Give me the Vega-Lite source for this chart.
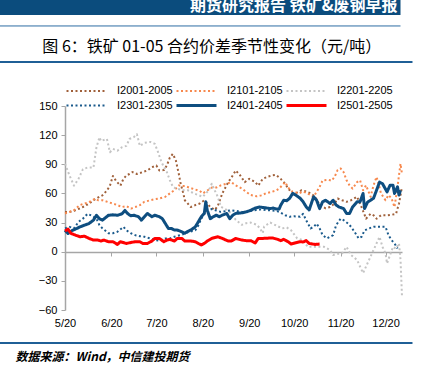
{
"$schema":"https://vega.github.io/schema/vega-lite/v6.json",
"width":337,"height":204,
"autosize":{"type":"none"},
"padding":{"left":65,"top":106,"right":20,"bottom":58},
"background":"#ffffff",
"config":{"view":{"stroke":null},"font":"Liberation Sans",
 "axis":{"labelFont":"Liberation Sans","labelFontSize":11,"labelColor":"#000000","domainColor":"#A6A6A6","tickColor":"#A6A6A6","grid":false,"title":null,"labelOverlap":false},
 "legend":{"labelFont":"Liberation Sans","labelFontSize":11,"labelColor":"#000000"}},
"layer":[
{"data":{"format":{"parse":{"d":"date:'%m/%d'"}},"values":[
{"s":"I2001-2005","d":"5/20","v":41},{"s":"I2001-2005","d":"5/23","v":41},{"s":"I2001-2005","d":"5/26","v":42},{"s":"I2001-2005","d":"5/29","v":44},{"s":"I2001-2005","d":"6/1","v":46},{"s":"I2001-2005","d":"6/5","v":49.5},{"s":"I2001-2005","d":"6/8","v":53},{"s":"I2001-2005","d":"6/12","v":56.5},{"s":"I2001-2005","d":"6/14","v":58},{"s":"I2001-2005","d":"6/17","v":63},{"s":"I2001-2005","d":"6/19","v":68},{"s":"I2001-2005","d":"6/21","v":78},{"s":"I2001-2005","d":"6/23","v":73},{"s":"I2001-2005","d":"6/26","v":68},{"s":"I2001-2005","d":"6/28","v":75},{"s":"I2001-2005","d":"6/30","v":78.5},{"s":"I2001-2005","d":"7/2","v":80},{"s":"I2001-2005","d":"7/4","v":82},{"s":"I2001-2005","d":"7/7","v":80},{"s":"I2001-2005","d":"7/11","v":82},{"s":"I2001-2005","d":"7/14","v":83.6},{"s":"I2001-2005","d":"7/17","v":87},{"s":"I2001-2005","d":"7/20","v":88.7},{"s":"I2001-2005","d":"7/22","v":83.6},{"s":"I2001-2005","d":"7/25","v":84},{"s":"I2001-2005","d":"7/27","v":88.7},{"s":"I2001-2005","d":"7/29","v":97},{"s":"I2001-2005","d":"7/31","v":100.7},{"s":"I2001-2005","d":"8/2","v":94},{"s":"I2001-2005","d":"8/4","v":80},{"s":"I2001-2005","d":"8/5","v":71.6},{"s":"I2001-2005","d":"8/7","v":60},{"s":"I2001-2005","d":"8/8","v":53},{"s":"I2001-2005","d":"8/10","v":49.6},{"s":"I2001-2005","d":"8/12","v":46},{"s":"I2001-2005","d":"8/15","v":48},{"s":"I2001-2005","d":"8/18","v":49.6},{"s":"I2001-2005","d":"8/21","v":53},{"s":"I2001-2005","d":"8/25","v":46},{"s":"I2001-2005","d":"8/28","v":43},{"s":"I2001-2005","d":"8/30","v":47},{"s":"I2001-2005","d":"9/2","v":60},{"s":"I2001-2005","d":"9/6","v":71.6},{"s":"I2001-2005","d":"9/9","v":78.5},{"s":"I2001-2005","d":"9/11","v":83.6},{"s":"I2001-2005","d":"9/14","v":78.5},{"s":"I2001-2005","d":"9/17","v":71.6},{"s":"I2001-2005","d":"9/20","v":75},{"s":"I2001-2005","d":"9/24","v":71.6},{"s":"I2001-2005","d":"9/26","v":68},{"s":"I2001-2005","d":"9/29","v":75},{"s":"I2001-2005","d":"10/2","v":77},{"s":"I2001-2005","d":"10/5","v":78.5},{"s":"I2001-2005","d":"10/8","v":79},{"s":"I2001-2005","d":"10/11","v":75},{"s":"I2001-2005","d":"10/14","v":70},{"s":"I2001-2005","d":"10/16","v":65},{"s":"I2001-2005","d":"10/19","v":60},{"s":"I2001-2005","d":"10/22","v":61},{"s":"I2001-2005","d":"10/25","v":63.3},{"s":"I2001-2005","d":"10/28","v":62},{"s":"I2001-2005","d":"10/31","v":60},{"s":"I2001-2005","d":"11/3","v":56.6},{"s":"I2001-2005","d":"11/6","v":48},{"s":"I2001-2005","d":"11/10","v":44.7},{"s":"I2001-2005","d":"11/13","v":46},{"s":"I2001-2005","d":"11/16","v":49.6},{"s":"I2001-2005","d":"11/18","v":54.8},{"s":"I2001-2005","d":"11/21","v":53},{"s":"I2001-2005","d":"11/24","v":51.4},{"s":"I2001-2005","d":"11/27","v":53},{"s":"I2001-2005","d":"12/1","v":56.6},{"s":"I2001-2005","d":"12/4","v":46},{"s":"I2001-2005","d":"12/7","v":34},{"s":"I2001-2005","d":"12/10","v":39},{"s":"I2001-2005","d":"12/12","v":37.5},{"s":"I2001-2005","d":"12/14","v":34},{"s":"I2001-2005","d":"12/17","v":37.5},{"s":"I2001-2005","d":"12/21","v":37.5},{"s":"I2001-2005","d":"12/24","v":38},{"s":"I2001-2005","d":"12/27","v":39},{"s":"I2001-2005","d":"12/29","v":49.6},{"s":"I2001-2005","d":"12/31","v":66.7},
{"s":"I2101-2105","d":"5/20","v":39.4},{"s":"I2101-2105","d":"5/23","v":41},{"s":"I2101-2105","d":"5/26","v":42.8},{"s":"I2101-2105","d":"5/30","v":48},{"s":"I2101-2105","d":"6/2","v":49.5},{"s":"I2101-2105","d":"6/5","v":51},{"s":"I2101-2105","d":"6/9","v":54.6},{"s":"I2101-2105","d":"6/11","v":53},{"s":"I2101-2105","d":"6/14","v":53},{"s":"I2101-2105","d":"6/18","v":51},{"s":"I2101-2105","d":"6/21","v":49.5},{"s":"I2101-2105","d":"6/24","v":48},{"s":"I2101-2105","d":"6/27","v":46},{"s":"I2101-2105","d":"6/30","v":47},{"s":"I2101-2105","d":"7/3","v":44.4},{"s":"I2101-2105","d":"7/6","v":46},{"s":"I2101-2105","d":"7/9","v":48},{"s":"I2101-2105","d":"7/12","v":51.4},{"s":"I2101-2105","d":"7/16","v":53},{"s":"I2101-2105","d":"7/19","v":54},{"s":"I2101-2105","d":"7/22","v":54.8},{"s":"I2101-2105","d":"7/26","v":56.6},{"s":"I2101-2105","d":"7/29","v":60},{"s":"I2101-2105","d":"8/1","v":63.3},{"s":"I2101-2105","d":"8/4","v":68.3},{"s":"I2101-2105","d":"8/6","v":67.6},{"s":"I2101-2105","d":"8/8","v":67.6},{"s":"I2101-2105","d":"8/11","v":66},{"s":"I2101-2105","d":"8/15","v":64},{"s":"I2101-2105","d":"8/18","v":62.5},{"s":"I2101-2105","d":"8/20","v":60},{"s":"I2101-2105","d":"8/23","v":63},{"s":"I2101-2105","d":"8/26","v":66},{"s":"I2101-2105","d":"8/29","v":66},{"s":"I2101-2105","d":"9/1","v":68.3},{"s":"I2101-2105","d":"9/5","v":70},{"s":"I2101-2105","d":"9/8","v":71.6},{"s":"I2101-2105","d":"9/11","v":68.3},{"s":"I2101-2105","d":"9/15","v":65},{"s":"I2101-2105","d":"9/18","v":61.6},{"s":"I2101-2105","d":"9/21","v":58.3},{"s":"I2101-2105","d":"9/25","v":57},{"s":"I2101-2105","d":"9/28","v":58},{"s":"I2101-2105","d":"10/1","v":60},{"s":"I2101-2105","d":"10/5","v":61.6},{"s":"I2101-2105","d":"10/8","v":63},{"s":"I2101-2105","d":"10/10","v":65},{"s":"I2101-2105","d":"10/14","v":71.6},{"s":"I2101-2105","d":"10/16","v":66},{"s":"I2101-2105","d":"10/19","v":61.6},{"s":"I2101-2105","d":"10/23","v":60},{"s":"I2101-2105","d":"10/26","v":62},{"s":"I2101-2105","d":"10/29","v":60},{"s":"I2101-2105","d":"11/2","v":56.6},{"s":"I2101-2105","d":"11/4","v":61.6},{"s":"I2101-2105","d":"11/6","v":66.7},{"s":"I2101-2105","d":"11/8","v":73.5},{"s":"I2101-2105","d":"11/12","v":74},{"s":"I2101-2105","d":"11/14","v":73},{"s":"I2101-2105","d":"11/16","v":77},{"s":"I2101-2105","d":"11/18","v":84},{"s":"I2101-2105","d":"11/20","v":85.7},{"s":"I2101-2105","d":"11/22","v":82},{"s":"I2101-2105","d":"11/24","v":73.5},{"s":"I2101-2105","d":"11/26","v":68.3},{"s":"I2101-2105","d":"11/28","v":65},{"s":"I2101-2105","d":"12/1","v":71.6},{"s":"I2101-2105","d":"12/3","v":73.5},{"s":"I2101-2105","d":"12/5","v":63.3},{"s":"I2101-2105","d":"12/7","v":68.3},{"s":"I2101-2105","d":"12/10","v":56.6},{"s":"I2101-2105","d":"12/12","v":68.3},{"s":"I2101-2105","d":"12/14","v":77},{"s":"I2101-2105","d":"12/15","v":72},{"s":"I2101-2105","d":"12/17","v":60},{"s":"I2101-2105","d":"12/20","v":53},{"s":"I2101-2105","d":"12/22","v":58.3},{"s":"I2101-2105","d":"12/24","v":55},{"s":"I2101-2105","d":"12/26","v":46},{"s":"I2101-2105","d":"12/28","v":66.7},{"s":"I2101-2105","d":"12/30","v":90.6},{"s":"I2101-2105","d":"12/31","v":80},
{"s":"I2201-2205","d":"5/20","v":90.5},{"s":"I2201-2205","d":"5/23","v":78.5},{"s":"I2201-2205","d":"5/26","v":68},{"s":"I2201-2205","d":"5/29","v":75},{"s":"I2201-2205","d":"6/1","v":85},{"s":"I2201-2205","d":"6/4","v":86.6},{"s":"I2201-2205","d":"6/8","v":86.6},{"s":"I2201-2205","d":"6/10","v":107.5},{"s":"I2201-2205","d":"6/12","v":117.8},{"s":"I2201-2205","d":"6/13","v":114},{"s":"I2201-2205","d":"6/17","v":116},{"s":"I2201-2205","d":"6/19","v":102.4},{"s":"I2201-2205","d":"6/21","v":105.8},{"s":"I2201-2205","d":"6/24","v":104},{"s":"I2201-2205","d":"6/27","v":107.5},{"s":"I2201-2205","d":"6/30","v":109},{"s":"I2201-2205","d":"7/2","v":116},{"s":"I2201-2205","d":"7/5","v":118},{"s":"I2201-2205","d":"7/7","v":121},{"s":"I2201-2205","d":"7/9","v":109},{"s":"I2201-2205","d":"7/12","v":112},{"s":"I2201-2205","d":"7/16","v":113},{"s":"I2201-2205","d":"7/19","v":111},{"s":"I2201-2205","d":"7/21","v":103},{"s":"I2201-2205","d":"7/23","v":94},{"s":"I2201-2205","d":"7/25","v":87},{"s":"I2201-2205","d":"7/27","v":82},{"s":"I2201-2205","d":"7/29","v":73.6},{"s":"I2201-2205","d":"7/31","v":67},{"s":"I2201-2205","d":"8/2","v":65},{"s":"I2201-2205","d":"8/7","v":63.3},{"s":"I2201-2205","d":"8/10","v":63.3},{"s":"I2201-2205","d":"8/14","v":60},{"s":"I2201-2205","d":"8/17","v":58.3},{"s":"I2201-2205","d":"8/20","v":56.5},{"s":"I2201-2205","d":"8/24","v":63.3},{"s":"I2201-2205","d":"8/26","v":70},{"s":"I2201-2205","d":"8/28","v":63},{"s":"I2201-2205","d":"8/30","v":56.5},{"s":"I2201-2205","d":"9/1","v":46.3},{"s":"I2201-2205","d":"9/5","v":43},{"s":"I2201-2205","d":"9/8","v":39.6},{"s":"I2201-2205","d":"9/11","v":32.8},{"s":"I2201-2205","d":"9/15","v":27.7},{"s":"I2201-2205","d":"9/18","v":29.4},{"s":"I2201-2205","d":"9/21","v":30},{"s":"I2201-2205","d":"9/25","v":27.7},{"s":"I2201-2205","d":"9/27","v":24.3},{"s":"I2201-2205","d":"9/29","v":19.2},{"s":"I2201-2205","d":"9/30","v":26},{"s":"I2201-2205","d":"10/4","v":30},{"s":"I2201-2205","d":"10/8","v":27},{"s":"I2201-2205","d":"10/12","v":24},{"s":"I2201-2205","d":"10/15","v":25},{"s":"I2201-2205","d":"10/18","v":22},{"s":"I2201-2205","d":"10/22","v":13.7},{"s":"I2201-2205","d":"10/26","v":12},{"s":"I2201-2205","d":"10/29","v":5},{"s":"I2201-2205","d":"11/2","v":5},{"s":"I2201-2205","d":"11/6","v":5},{"s":"I2201-2205","d":"11/9","v":5},{"s":"I2201-2205","d":"11/13","v":1.7},{"s":"I2201-2205","d":"11/15","v":-3.4},{"s":"I2201-2205","d":"11/17","v":-2.3},{"s":"I2201-2205","d":"11/21","v":-1.7},{"s":"I2201-2205","d":"11/24","v":5},{"s":"I2201-2205","d":"11/27","v":-3.4},{"s":"I2201-2205","d":"12/1","v":-8.5},{"s":"I2201-2205","d":"12/3","v":-15.3},{"s":"I2201-2205","d":"12/5","v":-22},{"s":"I2201-2205","d":"12/7","v":-15.3},{"s":"I2201-2205","d":"12/10","v":-5},{"s":"I2201-2205","d":"12/12","v":1.7},{"s":"I2201-2205","d":"12/14","v":8.5},{"s":"I2201-2205","d":"12/16","v":15.3},{"s":"I2201-2205","d":"12/18","v":5},{"s":"I2201-2205","d":"12/20","v":-1.7},{"s":"I2201-2205","d":"12/21","v":-12},{"s":"I2201-2205","d":"12/23","v":-3.4},{"s":"I2201-2205","d":"12/25","v":5},{"s":"I2201-2205","d":"12/27","v":3},{"s":"I2201-2205","d":"12/29","v":8.5},{"s":"I2201-2205","d":"12/30","v":-8},{"s":"I2201-2205","d":"12/31","v":-46},
{"s":"I2301-2305","d":"5/20","v":24},{"s":"I2301-2305","d":"5/23","v":25.6},{"s":"I2301-2305","d":"5/26","v":24},{"s":"I2301-2305","d":"5/29","v":30.7},{"s":"I2301-2305","d":"6/1","v":34},{"s":"I2301-2305","d":"6/4","v":39},{"s":"I2301-2305","d":"6/7","v":37},{"s":"I2301-2305","d":"6/10","v":34},{"s":"I2301-2305","d":"6/12","v":27.3},{"s":"I2301-2305","d":"6/14","v":24},{"s":"I2301-2305","d":"6/18","v":19},{"s":"I2301-2305","d":"6/21","v":19},{"s":"I2301-2305","d":"6/24","v":20.5},{"s":"I2301-2305","d":"6/28","v":25.6},{"s":"I2301-2305","d":"6/30","v":22},{"s":"I2301-2305","d":"7/3","v":19},{"s":"I2301-2305","d":"7/6","v":17},{"s":"I2301-2305","d":"7/9","v":16},{"s":"I2301-2305","d":"7/12","v":15.4},{"s":"I2301-2305","d":"7/16","v":13.7},{"s":"I2301-2305","d":"7/19","v":12},{"s":"I2301-2305","d":"7/22","v":11.4},{"s":"I2301-2305","d":"7/26","v":13.7},{"s":"I2301-2305","d":"7/29","v":13.7},{"s":"I2301-2305","d":"8/1","v":15.4},{"s":"I2301-2305","d":"8/5","v":17},{"s":"I2301-2305","d":"8/8","v":18.8},{"s":"I2301-2305","d":"8/11","v":20.5},{"s":"I2301-2305","d":"8/15","v":22},{"s":"I2301-2305","d":"8/17","v":27},{"s":"I2301-2305","d":"8/19","v":34},{"s":"I2301-2305","d":"8/21","v":39},{"s":"I2301-2305","d":"8/23","v":42.5},{"s":"I2301-2305","d":"8/26","v":44},{"s":"I2301-2305","d":"8/29","v":42.5},{"s":"I2301-2305","d":"9/1","v":41},{"s":"I2301-2305","d":"9/5","v":42},{"s":"I2301-2305","d":"9/8","v":42.5},{"s":"I2301-2305","d":"9/11","v":42},{"s":"I2301-2305","d":"9/15","v":41},{"s":"I2301-2305","d":"9/18","v":41},{"s":"I2301-2305","d":"9/22","v":42.5},{"s":"I2301-2305","d":"9/25","v":43},{"s":"I2301-2305","d":"9/28","v":43.6},{"s":"I2301-2305","d":"10/1","v":43},{"s":"I2301-2305","d":"10/5","v":42.5},{"s":"I2301-2305","d":"10/8","v":42},{"s":"I2301-2305","d":"10/10","v":41},{"s":"I2301-2305","d":"10/14","v":37.6},{"s":"I2301-2305","d":"10/17","v":36},{"s":"I2301-2305","d":"10/20","v":36.5},{"s":"I2301-2305","d":"10/24","v":36},{"s":"I2301-2305","d":"10/26","v":39},{"s":"I2301-2305","d":"10/28","v":32.5},{"s":"I2301-2305","d":"10/31","v":24},{"s":"I2301-2305","d":"11/2","v":25.6},{"s":"I2301-2305","d":"11/4","v":29},{"s":"I2301-2305","d":"11/6","v":24},{"s":"I2301-2305","d":"11/8","v":17},{"s":"I2301-2305","d":"11/11","v":13.7},{"s":"I2301-2305","d":"11/13","v":15.4},{"s":"I2301-2305","d":"11/15","v":17},{"s":"I2301-2305","d":"11/17","v":27.3},{"s":"I2301-2305","d":"11/20","v":34},{"s":"I2301-2305","d":"11/22","v":32.5},{"s":"I2301-2305","d":"11/25","v":29},{"s":"I2301-2305","d":"11/27","v":25.6},{"s":"I2301-2305","d":"11/30","v":18.8},{"s":"I2301-2305","d":"12/2","v":13.7},{"s":"I2301-2305","d":"12/4","v":15.4},{"s":"I2301-2305","d":"12/6","v":22},{"s":"I2301-2305","d":"12/9","v":24},{"s":"I2301-2305","d":"12/12","v":25.6},{"s":"I2301-2305","d":"12/15","v":25.6},{"s":"I2301-2305","d":"12/20","v":25.6},{"s":"I2301-2305","d":"12/22","v":17},{"s":"I2301-2305","d":"12/24","v":12},{"s":"I2301-2305","d":"12/26","v":8.5},{"s":"I2301-2305","d":"12/28","v":3.4},
{"s":"I2401-2405","d":"5/20","v":22.2},{"s":"I2401-2405","d":"5/22","v":18.8},{"s":"I2401-2405","d":"5/25","v":22},{"s":"I2401-2405","d":"5/28","v":24},{"s":"I2401-2405","d":"5/30","v":25.6},{"s":"I2401-2405","d":"6/2","v":27.3},{"s":"I2401-2405","d":"6/5","v":29},{"s":"I2401-2405","d":"6/8","v":32.5},{"s":"I2401-2405","d":"6/10","v":37.5},{"s":"I2401-2405","d":"6/12","v":34},{"s":"I2401-2405","d":"6/14","v":32.5},{"s":"I2401-2405","d":"6/18","v":37.5},{"s":"I2401-2405","d":"6/21","v":38},{"s":"I2401-2405","d":"6/24","v":37.5},{"s":"I2401-2405","d":"6/27","v":39},{"s":"I2401-2405","d":"6/29","v":42.5},{"s":"I2401-2405","d":"7/1","v":39},{"s":"I2401-2405","d":"7/3","v":37},{"s":"I2401-2405","d":"7/5","v":37.6},{"s":"I2401-2405","d":"7/8","v":36},{"s":"I2401-2405","d":"7/10","v":32.5},{"s":"I2401-2405","d":"7/12","v":36},{"s":"I2401-2405","d":"7/14","v":39.4},{"s":"I2401-2405","d":"7/17","v":36},{"s":"I2401-2405","d":"7/19","v":37.6},{"s":"I2401-2405","d":"7/22","v":36},{"s":"I2401-2405","d":"7/24","v":34},{"s":"I2401-2405","d":"7/26","v":29},{"s":"I2401-2405","d":"7/28","v":24},{"s":"I2401-2405","d":"7/30","v":24},{"s":"I2401-2405","d":"8/1","v":22.3},{"s":"I2401-2405","d":"8/3","v":22.3},{"s":"I2401-2405","d":"8/6","v":20.5},{"s":"I2401-2405","d":"8/8","v":19},{"s":"I2401-2405","d":"8/10","v":21},{"s":"I2401-2405","d":"8/12","v":22.3},{"s":"I2401-2405","d":"8/15","v":25.6},{"s":"I2401-2405","d":"8/17","v":30.7},{"s":"I2401-2405","d":"8/19","v":36},{"s":"I2401-2405","d":"8/21","v":39.4},{"s":"I2401-2405","d":"8/22","v":51.4},{"s":"I2401-2405","d":"8/23","v":42.6},{"s":"I2401-2405","d":"8/25","v":34},{"s":"I2401-2405","d":"8/27","v":36},{"s":"I2401-2405","d":"8/29","v":37.6},{"s":"I2401-2405","d":"8/31","v":36},{"s":"I2401-2405","d":"9/2","v":37.6},{"s":"I2401-2405","d":"9/5","v":39.4},{"s":"I2401-2405","d":"9/7","v":34},{"s":"I2401-2405","d":"9/9","v":37.6},{"s":"I2401-2405","d":"9/11","v":39.4},{"s":"I2401-2405","d":"9/15","v":40},{"s":"I2401-2405","d":"9/18","v":41},{"s":"I2401-2405","d":"9/21","v":42.6},{"s":"I2401-2405","d":"9/24","v":45},{"s":"I2401-2405","d":"9/27","v":46},{"s":"I2401-2405","d":"9/30","v":45.4},{"s":"I2401-2405","d":"10/4","v":44.4},{"s":"I2401-2405","d":"10/6","v":45},{"s":"I2401-2405","d":"10/8","v":44},{"s":"I2401-2405","d":"10/10","v":44},{"s":"I2401-2405","d":"10/11","v":47.8},{"s":"I2401-2405","d":"10/13","v":53},{"s":"I2401-2405","d":"10/15","v":52.5},{"s":"I2401-2405","d":"10/17","v":55},{"s":"I2401-2405","d":"10/19","v":60},{"s":"I2401-2405","d":"10/21","v":58.4},{"s":"I2401-2405","d":"10/24","v":55},{"s":"I2401-2405","d":"10/26","v":51.4},{"s":"I2401-2405","d":"10/28","v":46.3},{"s":"I2401-2405","d":"10/30","v":43},{"s":"I2401-2405","d":"11/2","v":56.6},{"s":"I2401-2405","d":"11/4","v":53},{"s":"I2401-2405","d":"11/6","v":44.4},{"s":"I2401-2405","d":"11/8","v":51.4},{"s":"I2401-2405","d":"11/10","v":53},{"s":"I2401-2405","d":"11/13","v":49.6},{"s":"I2401-2405","d":"11/15","v":53},{"s":"I2401-2405","d":"11/17","v":48},{"s":"I2401-2405","d":"11/19","v":46},{"s":"I2401-2405","d":"11/22","v":44.4},{"s":"I2401-2405","d":"11/24","v":39.4},{"s":"I2401-2405","d":"11/26","v":39.4},{"s":"I2401-2405","d":"11/28","v":46},{"s":"I2401-2405","d":"12/1","v":51.4},{"s":"I2401-2405","d":"12/3","v":51.4},{"s":"I2401-2405","d":"12/5","v":60},{"s":"I2401-2405","d":"12/6","v":44.4},{"s":"I2401-2405","d":"12/8","v":51},{"s":"I2401-2405","d":"12/10","v":53},{"s":"I2401-2405","d":"12/12","v":55},{"s":"I2401-2405","d":"12/14","v":63.3},{"s":"I2401-2405","d":"12/16","v":71.6},{"s":"I2401-2405","d":"12/18","v":70},{"s":"I2401-2405","d":"12/21","v":61.6},{"s":"I2401-2405","d":"12/23","v":68.3},{"s":"I2401-2405","d":"12/25","v":68.3},{"s":"I2401-2405","d":"12/26","v":60},{"s":"I2401-2405","d":"12/28","v":66.7},{"s":"I2401-2405","d":"12/29","v":58.3},{"s":"I2401-2405","d":"12/30","v":63.3},
{"s":"I2501-2505","d":"5/20","v":21.3},{"s":"I2501-2505","d":"5/22","v":23.3},{"s":"I2501-2505","d":"5/24","v":18.8},{"s":"I2501-2505","d":"5/27","v":17},{"s":"I2501-2505","d":"5/30","v":15.4},{"s":"I2501-2505","d":"6/2","v":16},{"s":"I2501-2505","d":"6/5","v":13.7},{"s":"I2501-2505","d":"6/8","v":12},{"s":"I2501-2505","d":"6/11","v":12},{"s":"I2501-2505","d":"6/13","v":11},{"s":"I2501-2505","d":"6/15","v":12},{"s":"I2501-2505","d":"6/18","v":10.3},{"s":"I2501-2505","d":"6/21","v":10.3},{"s":"I2501-2505","d":"6/24","v":7.5},{"s":"I2501-2505","d":"6/26","v":10.3},{"s":"I2501-2505","d":"6/30","v":8.5},{"s":"I2501-2505","d":"7/3","v":9.5},{"s":"I2501-2505","d":"7/6","v":10.3},{"s":"I2501-2505","d":"7/9","v":10.3},{"s":"I2501-2505","d":"7/11","v":8.5},{"s":"I2501-2505","d":"7/14","v":8.5},{"s":"I2501-2505","d":"7/17","v":11},{"s":"I2501-2505","d":"7/19","v":13.7},{"s":"I2501-2505","d":"7/22","v":13.7},{"s":"I2501-2505","d":"7/25","v":10.3},{"s":"I2501-2505","d":"7/27","v":12},{"s":"I2501-2505","d":"7/29","v":12.7},{"s":"I2501-2505","d":"8/1","v":11},{"s":"I2501-2505","d":"8/3","v":13.7},{"s":"I2501-2505","d":"8/6","v":13.7},{"s":"I2501-2505","d":"8/8","v":11},{"s":"I2501-2505","d":"8/12","v":11},{"s":"I2501-2505","d":"8/15","v":10.3},{"s":"I2501-2505","d":"8/17","v":8.5},{"s":"I2501-2505","d":"8/19","v":7},{"s":"I2501-2505","d":"8/21","v":8.5},{"s":"I2501-2505","d":"8/23","v":11},{"s":"I2501-2505","d":"8/26","v":13.7},{"s":"I2501-2505","d":"8/30","v":15.4},{"s":"I2501-2505","d":"9/2","v":13.7},{"s":"I2501-2505","d":"9/6","v":11},{"s":"I2501-2505","d":"9/8","v":11},{"s":"I2501-2505","d":"9/11","v":13.7},{"s":"I2501-2505","d":"9/15","v":12},{"s":"I2501-2505","d":"9/18","v":11.4},{"s":"I2501-2505","d":"9/21","v":11.4},{"s":"I2501-2505","d":"9/24","v":9},{"s":"I2501-2505","d":"9/26","v":13.7},{"s":"I2501-2505","d":"9/29","v":13.7},{"s":"I2501-2505","d":"10/3","v":14},{"s":"I2501-2505","d":"10/6","v":14},{"s":"I2501-2505","d":"10/9","v":12.7},{"s":"I2501-2505","d":"10/11","v":11.4},{"s":"I2501-2505","d":"10/13","v":12.7},{"s":"I2501-2505","d":"10/16","v":10.3},{"s":"I2501-2505","d":"10/18","v":7.9},{"s":"I2501-2505","d":"10/21","v":9.2},{"s":"I2501-2505","d":"10/24","v":10.3},{"s":"I2501-2505","d":"10/26","v":10},{"s":"I2501-2505","d":"10/28","v":11.4},{"s":"I2501-2505","d":"10/30","v":8.5},{"s":"I2501-2505","d":"11/3","v":7.5},{"s":"I2501-2505","d":"11/6","v":7.9}
]},
 "mark":{"type":"line","clip":false,"strokeJoin":"round"},
 "encoding":{
  "x":{"field":"d","type":"temporal",
   "scale":{"domain":[{"year":1900,"month":5,"date":20},{"year":1900,"month":12,"date":31}]},
   "axis":{"values":[{"year":1900,"month":5,"date":20},{"year":1900,"month":6,"date":20},{"year":1900,"month":7,"date":20},{"year":1900,"month":8,"date":20},{"year":1900,"month":9,"date":20},{"year":1900,"month":10,"date":20},{"year":1900,"month":11,"date":20},{"year":1900,"month":12,"date":20}],
    "tickCount":12,"format":"%-m/%d","offset":-58,"tickSize":4,"labelPadding":61,"domainWidth":1.5,"labelFlush":false,"labelOverlap":false}},
  "y":{"field":"v","type":"quantitative","scale":{"domain":[-60,150],"nice":false,"zero":false},
   "axis":{"values":[-60,-30,0,30,60,90,120,150],"tickCount":10,"tickSize":4,"labelPadding":4,"domainWidth":1.5,"labelOverlap":false,"labelFlush":false}},
  "color":{"field":"s","type":"nominal","scale":{"domain":["I2001-2005","I2101-2105","I2201-2205","I2301-2305","I2401-2405","I2501-2505"],"range":["#A0603A","#F7894E","#C4C4C4","#1A5A8C","#0E4E80","#FF0000"]},
   "legend":{"orient":"none","legendX":0,"legendY":-21.5,"direction":"horizontal","columns":3,"title":null,"symbolType":"stroke","symbolSize":1600,"clipHeight":13,"labelOffset":9,"columnPadding":2,"rowPadding":1.5,"padding":0}},
  "strokeDash":{"field":"s","type":"nominal","scale":{"domain":["I2001-2005","I2101-2105","I2201-2205","I2301-2305","I2401-2405","I2501-2505"],"range":[[2,2.5],[2,2.5],[2,2.5],[2,2.5],[1,0],[1,0]]}},
  "strokeWidth":{"field":"s","type":"nominal","scale":{"type":"ordinal","domain":["I2001-2005","I2101-2105","I2201-2205","I2301-2305","I2401-2405","I2501-2505"],"range":[2,2,2,2,3,3]}}
 }},
{"data":{"values":[{}]},"mark":{"type":"rect","color":"#0B4C7D","clip":false},
 "encoding":{"x":{"datum":{"year":1900,"month":4,"date":1}},"x2":{"datum":{"year":1900,"month":12,"date":30}},"y":{"datum":270},"y2":{"datum":243.7}}},
{"data":{"values":[{}]},"mark":{"type":"text","text":"期货研究报告 铁矿&废钢早报","font":"Noto Sans CJK SC","fontSize":16,"fontWeight":"bold","color":"#ffffff","align":"right","baseline":"alphabetic","clip":false},
 "encoding":{"x":{"datum":{"year":1900,"month":12,"date":28}},"y":{"datum":247.8}}},
{"data":{"values":[{}]},"mark":{"type":"rule","color":"#2C6DA3","strokeWidth":1,"clip":false},
 "encoding":{"x":{"datum":{"year":1900,"month":4,"date":1}},"x2":{"datum":{"year":1900,"month":12,"date":30}},"y":{"datum":232.4}}},
{"data":{"values":[{}]},"mark":{"type":"text","text":"图 6：铁矿 01-05 合约价差季节性变化（元/吨）","font":"Noto Sans CJK SC","fontSize":16,"color":"#000000","align":"center","baseline":"middle","clip":false},
 "encoding":{"x":{"datum":{"year":1900,"month":8,"date":26}},"y":{"datum":210.7}}},
{"data":{"values":[{"y":195.3},{"y":-94}]},"mark":{"type":"rule","color":"#1F5F96","strokeWidth":2,"clip":false},
 "encoding":{"x":{"datum":{"year":1900,"month":4,"date":1}},"x2":{"datum":{"year":1901,"month":1,"date":7}},"y":{"field":"y","type":"quantitative"}}},
{"data":{"values":[{}]},"mark":{"type":"text","text":"数据来源：Wind，中信建投期货","font":"Noto Sans CJK SC","fontSize":12,"fontWeight":"bold","fontStyle":"italic","color":"#000000","align":"left","baseline":"middle","clip":false},
 "encoding":{"x":{"datum":{"year":1900,"month":4,"date":17}},"y":{"datum":-108.4}}}
]
}
